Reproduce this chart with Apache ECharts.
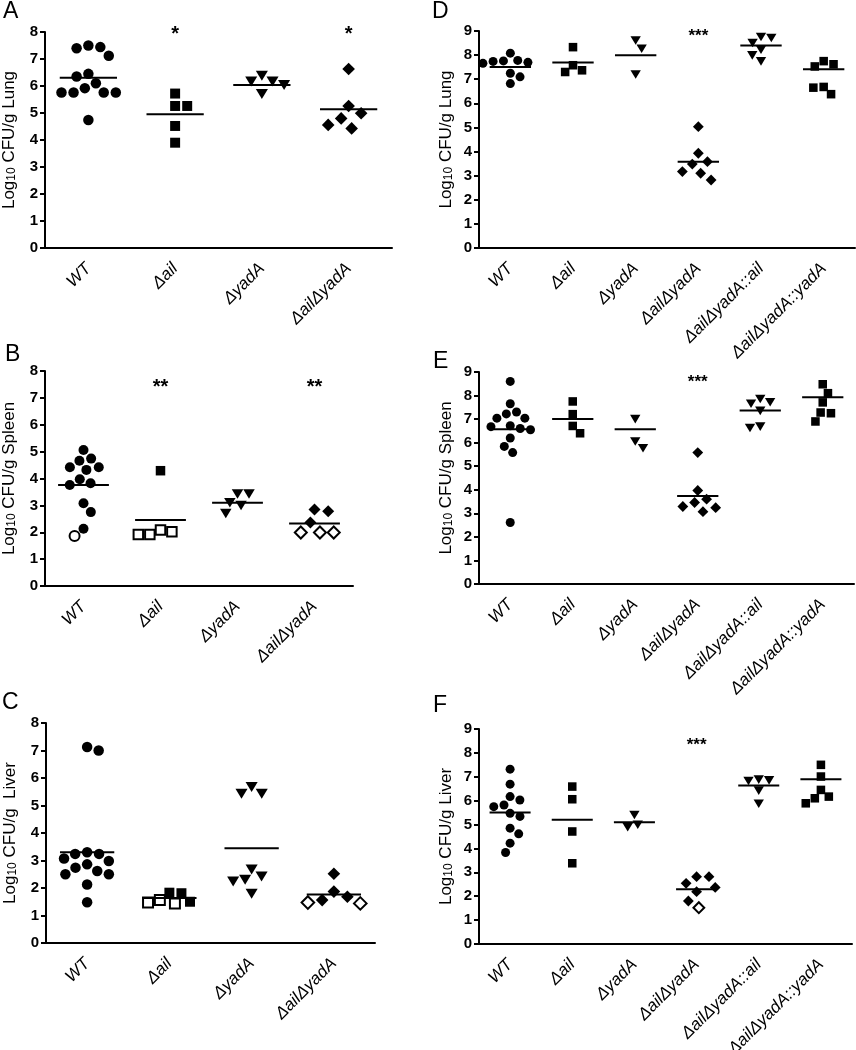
<!DOCTYPE html>
<html><head><meta charset="utf-8">
<script src="https://cdn.jsdelivr.net/npm/echarts/dist/echarts.min.js"></script>
<style>html,body{margin:0;padding:0;background:#fff}#c{width:856px;height:1050px}</style>
</head><body><div id="c"></div>
<script>
// ---------- DATA ----------
const catsABC = ['WT', 'Δail', 'ΔyadA', 'ΔailΔyadA'];
const catsDEF = ['WT', 'Δail', 'ΔyadA', 'ΔailΔyadA', 'ΔailΔyadA::ail', 'ΔailΔyadA::yadA'];
const yTicksABC = [0, 1, 2, 3, 4, 5, 6, 7, 8];
const yTicksDEF = [0, 1, 2, 3, 4, 5, 6, 7, 8, 9];

// Panel A: Lung
const lungA_filled = [
  [7.50, 7.44, 7.40, 7.12, 6.45, 6.35, 6.10, 5.92, 5.76, 5.76, 5.76, 5.76, 4.74],
  [5.72, 5.26, 5.26, 4.52, 3.90],
  [6.38, 6.17, 6.17, 6.04, 5.70],
  [6.63, 5.26, 4.99, 4.80, 4.56, 4.43]
];
const lungA_open = [[], [], [], []];
const lungA_means = [6.31, 4.95, 6.04, 5.14];
const lungA_stars = ['', '*', '', '*'];

// Panel B: Spleen
const spleenB_filled = [
  [5.06, 4.74, 4.66, 4.42, 4.42, 4.32, 3.97, 3.82, 3.76, 3.08, 2.75, 2.13],
  [4.29],
  [3.42, 3.42, 3.10, 3.00, 2.70],
  [2.85, 2.78, 2.36]
];
const spleenB_open = [[1.86], [2.08, 2.02, 1.92, 1.92], [], [1.99, 1.99, 1.99]];
const spleenB_means = [3.76, 2.46, 3.10, 2.33];
const spleenB_stars = ['', '**', '', '**'];

// Panel C: Liver
const liverC_filled = [
  [7.13, 7.00, 3.30, 3.24, 3.24, 3.07, 2.98, 2.86, 2.74, 2.62, 2.50, 2.50, 2.13, 1.48],
  [1.83, 1.81, 1.50],
  [5.67, 5.43, 5.43, 2.67, 2.42, 2.30, 2.24, 1.79],
  [2.52, 1.87, 1.68, 1.56]
];
const liverC_open = [[], [1.56, 1.47, 1.44], [], [1.47, 1.44]];
const liverC_means = [3.30, 1.64, 3.45, 1.76];
const liverC_stars = ['', '', '', ''];

// Panel D: Lung
const lungD_filled = [
  [8.08, 7.78, 7.76, 7.74, 7.70, 7.66, 7.25, 7.10, 6.82],
  [8.33, 7.58, 7.37, 7.30],
  [8.61, 8.26, 7.20],
  [5.03, 3.93, 3.58, 3.48, 3.17, 3.10, 2.82],
  [8.75, 8.71, 8.50, 8.22, 7.99, 7.74],
  [7.75, 7.62, 7.53, 6.68, 6.65, 6.38]
];
const lungD_open = [[], [], [], [], [], []];
const lungD_means = [7.51, 7.69, 7.99, 3.58, 8.40, 7.41];
const lungD_stars = ['', '', '', '***', '', ''];

// Panel E: Spleen
const spleenE_filled = [
  [8.60, 7.65, 7.30, 7.22, 7.04, 7.04, 6.72, 6.68, 6.60, 6.55, 6.20, 5.84, 5.58, 2.61],
  [7.75, 7.21, 6.71, 6.40],
  [7.00, 6.05, 5.76],
  [5.58, 3.97, 3.60, 3.46, 3.29, 3.24, 3.07],
  [7.85, 7.72, 7.65, 7.35, 6.68, 6.62],
  [8.48, 8.10, 7.71, 7.28, 7.25, 6.90]
];
const spleenE_open = [[], [], [], [], [], []];
const spleenE_means = [6.57, 7.01, 6.57, 3.74, 7.37, 7.93];
const spleenE_stars = ['', '', '', '***', '', ''];

// Panel F: Liver
const liverF_filled = [
  [7.32, 6.69, 6.17, 6.03, 5.82, 5.75, 5.47, 5.34, 4.85, 4.61, 4.22, 3.83],
  [6.59, 6.06, 4.71, 3.38],
  [5.40, 4.99, 4.89],
  [2.82, 2.82, 2.54, 2.37, 2.19, 1.80],
  [6.88, 6.85, 6.82, 6.42, 5.87],
  [7.50, 7.01, 6.45, 6.17, 6.10, 5.89]
];
const liverF_open = [[], [], [], [1.52], [], []];
const liverF_means = [5.50, 5.20, 5.10, 2.29, 6.63, 6.90];
const liverF_stars = ['', '', '', '***', '', ''];

// ---------- LAYOUT ----------
const FONT = 'Liberation Sans, Arial, Helvetica, sans-serif';
const SYMBOLS = ['circle', 'rect', 'triangle', 'diamond', 'triangle', 'rect'];

const panels = [
  {letter: 'A', cats: catsABC, ticks: yTicksABC, filled: lungA_filled, open: lungA_open, means: lungA_means, stars: lungA_stars,
   organ: 'Lung', grid: {left: 45, top: 32, width: 347, height: 216}, lpos: [3, 0], size: 10.5, starY: 7.9, starFont: 20, nameGap: 27},
  {letter: 'B', cats: catsABC, ticks: yTicksABC, filled: spleenB_filled, open: spleenB_open, means: spleenB_means, stars: spleenB_stars,
   organ: 'Spleen', grid: {left: 45, top: 371, width: 308, height: 215}, lpos: [5, 343], size: 10, starY: 7.4, starFont: 20, nameGap: 27},
  {letter: 'C', cats: catsABC, ticks: yTicksABC, filled: liverC_filled, open: liverC_open, means: liverC_means, stars: liverC_stars,
   organ: ' Liver', grid: {left: 46, top: 723, width: 329, height: 220}, lpos: [2, 691], size: 10.5, starY: 7.5, starFont: 20, nameGap: 27},
  {letter: 'D', cats: catsDEF, ticks: yTicksDEF, filled: lungD_filled, open: lungD_open, means: lungD_means, stars: lungD_stars,
   organ: 'Lung', grid: {left: 479, top: 31, width: 376, height: 217}, lpos: [432, 0], size: 9, starY: 8.78, starFont: 17, nameGap: 24},
  {letter: 'E', cats: catsDEF, ticks: yTicksDEF, filled: spleenE_filled, open: spleenE_open, means: spleenE_means, stars: spleenE_stars,
   organ: 'Spleen', grid: {left: 479, top: 372, width: 375, height: 212}, lpos: [433, 350], size: 9, starY: 8.55, starFont: 17, nameGap: 24},
  {letter: 'F', cats: catsDEF, ticks: yTicksDEF, filled: liverF_filled, open: liverF_open, means: liverF_means, stars: liverF_stars,
   organ: 'Liver', grid: {left: 479, top: 729, width: 373, height: 215}, lpos: [433, 694], size: 9, starY: 8.3, starFont: 17, nameGap: 24}
];

// beeswarm: horizontal pixel offsets so markers don't collide
function beeswarm(pys, dist) {
  const placed = [];
  const xs = new Array(pys.length);
  const order = pys.map((y, i) => i).sort((a, b) => pys[a] - pys[b]);
  for (const i of order) {
    const y = pys[i];
    const iv = [];
    for (const p of placed) {
      const dy = Math.abs(p.y - y);
      if (dy < dist) { const h = Math.sqrt(dist * dist - dy * dy); iv.push([p.x - h, p.x + h]); }
    }
    const cands = [0];
    iv.forEach(([a, b]) => { cands.push(a, b); });
    const valid = cands.filter(c => iv.every(([a, b]) => c <= a + 1e-6 || c >= b - 1e-6));
    const sum = placed.reduce((s, p) => s + p.x, 0);
    valid.sort((a, b) => {
      const d = Math.abs(a) - Math.abs(b);
      if (Math.abs(d) > 0.01) return d;
      return sum > 0 ? a - b : b - a;
    });
    xs[i] = valid[0];
    placed.push({x: valid[0], y});
  }
  return xs;
}

const grids = [], xAxes = [], yAxes = [], series = [], graphics = [];

panels.forEach((P, pi) => {
  grids.push(Object.assign({outerBoundsMode: 'none', containLabel: false}, P.grid));
  const ymax = P.ticks[P.ticks.length - 1];
  xAxes.push({
    type: 'category', gridIndex: pi, data: P.cats, boundaryGap: true,
    axisLine: {lineStyle: {color: '#000', width: 2}},
    axisTick: {alignWithLabel: true, length: 5, lineStyle: {color: '#000', width: 2}},
    axisLabel: {interval: 0, rotate: 45, fontStyle: 'italic', fontSize: 17, color: '#000', fontFamily: FONT, margin: 18},
    splitLine: {show: false}
  });
  yAxes.push({
    type: 'value', gridIndex: pi, min: P.ticks[0], max: ymax, interval: 1,
    axisLine: {show: true, lineStyle: {color: '#000', width: 2}},
    axisTick: {show: true, length: 5, lineStyle: {color: '#000', width: 2}},
    axisLabel: {fontWeight: 'bold', fontSize: 15, color: '#000', fontFamily: FONT, margin: 7},
    splitLine: {show: false},
    name: '{n|Log}{s|10}{n| CFU/g ' + P.organ + '}',
    nameLocation: 'middle', nameGap: P.nameGap, nameRotate: 90,
    nameTextStyle: {
      color: '#000', fontFamily: FONT, fontSize: 17,
      rich: {
        n: {fontSize: 17, fontFamily: FONT, color: '#000', lineHeight: 22, verticalAlign: 'bottom'},
        s: {fontSize: 12, fontFamily: FONT, color: '#000', lineHeight: 10, verticalAlign: 'bottom'}
      }
    }
  });

  const pxPerUnit = P.grid.height / ymax;
  const pts = [];
  P.cats.forEach((c, j) => {
    const items = P.filled[j].map(v => ({v, open: false})).concat(P.open[j].map(v => ({v, open: true})));
    const sym = SYMBOLS[j];
    const s = P.size;
    const dist = (sym === 'diamond' ? s * 1.2 : s) * 1.15;
    const offs = beeswarm(items.map(it => -it.v * pxPerUnit), dist);
    items.forEach((it, k) => {
      let size = s, rot = 0;
      if (sym === 'rect') size = s * 0.95;
      if (sym === 'triangle') { size = [s * 1.15, s * 0.95]; rot = 180; }
      if (sym === 'diamond') size = s * 1.2;
      pts.push({
        value: [j, it.v], symbol: sym, symbolSize: size, symbolRotate: rot,
        symbolOffset: [offs[k], 0],
        itemStyle: it.open ? {color: '#fff', borderColor: '#000', borderWidth: 2, opacity: 1}
                           : {color: '#000', borderWidth: 0, opacity: 1}
      });
    });
  });
  series.push({type: 'scatter', xAxisIndex: pi, yAxisIndex: pi, data: pts, silent: true, z: 2,
               itemStyle: {opacity: 1}});

  series.push({
    type: 'custom', xAxisIndex: pi, yAxisIndex: pi, silent: true, z: 3,
    data: P.means.map((m, j) => [j, m]),
    renderItem: (params, api) => {
      const p = api.coord([api.value(0), api.value(1)]);
      const hw = api.size([1, 0])[0] * 0.33;
      return {type: 'line', shape: {x1: p[0] - hw, y1: p[1], x2: p[0] + hw, y2: p[1]},
              style: {stroke: '#000', lineWidth: 2}};
    }
  });

  series.push({
    type: 'custom', xAxisIndex: pi, yAxisIndex: pi, silent: true, z: 3,
    data: P.stars.map((t, j) => [j, P.starY]),
    renderItem: (params, api) => {
      const t = P.stars[params.dataIndex];
      if (!t) return null;
      const p = api.coord([api.value(0), api.value(1)]);
      return {type: 'text', x: p[0], y: p[1],
              style: {text: t, fill: '#000', fontSize: P.starFont, fontWeight: 'bold', fontFamily: FONT,
                      align: 'center', verticalAlign: 'middle'}};
    }
  });

  graphics.push({type: 'text', left: P.lpos[0], top: P.lpos[1],
                 style: {text: P.letter, fontSize: 23, fontFamily: FONT, fill: '#000'}});
});

const chart = echarts.init(document.getElementById('c'), null, {renderer: 'canvas'});
chart.setOption({
  animation: false,
  backgroundColor: '#fff',
  grid: grids, xAxis: xAxes, yAxis: yAxes, series: series, graphic: graphics
});
</script></body></html>
